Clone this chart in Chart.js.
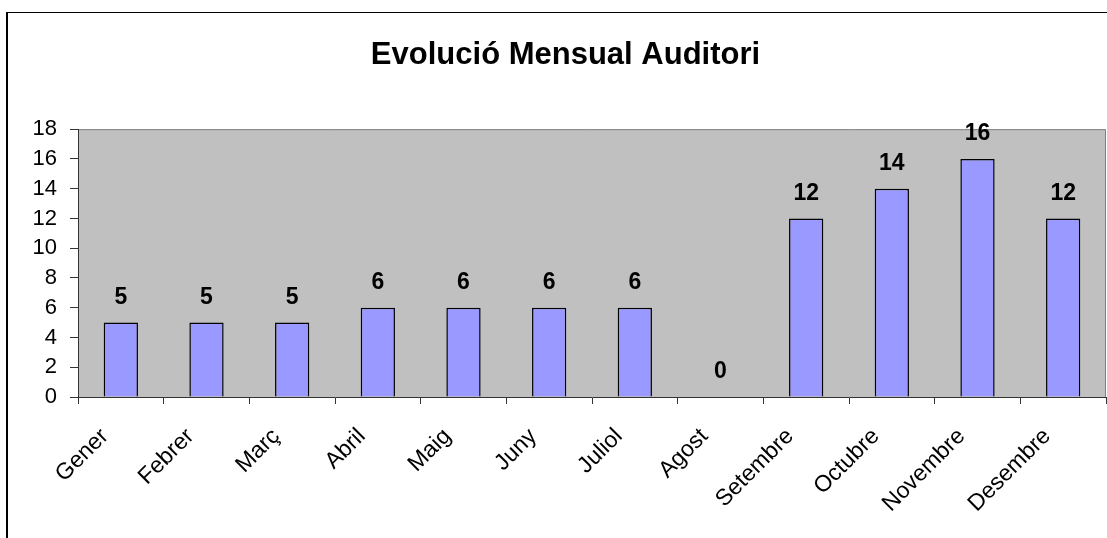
<!DOCTYPE html>
<html>
<head>
<meta charset="utf-8">
<title>Evolució Mensual Auditori</title>
<script src="https://cdn.jsdelivr.net/npm/chart.js@4"></script>
<style>
  html, body { margin: 0; padding: 0; background: #fff; }
  .chart-box { position: relative; width: 1107px; height: 538px; }
</style>
</head>
<body>
<div class="chart-box"><canvas id="auditoriChart"></canvas></div>
<script>
const months = ['Gener', 'Febrer', 'Març', 'Abril', 'Maig', 'Juny', 'Juliol', 'Agost', 'Setembre', 'Octubre', 'Novembre', 'Desembre'];
const visits = [5, 5, 5, 6, 6, 6, 6, 0, 12, 14, 16, 12];
const yTicks = [0, 2, 4, 6, 8, 10, 12, 14, 16, 18];

const FONT = "'Liberation Sans', Arial, sans-serif";

// grey plot background + outer frame, excel style
const plotBackground = {
  id: 'plotBackground',
  beforeDraw(chart) {
    const ctx = chart.ctx;
    const a = chart.chartArea;
    ctx.save();
    ctx.fillStyle = '#c0c0c0';
    ctx.fillRect(a.left, a.top, a.right - a.left, a.bottom - a.top);
    ctx.strokeStyle = '#808080';
    ctx.lineWidth = 1;
    ctx.beginPath();
    ctx.moveTo(a.left, a.top + 0.5);
    ctx.lineTo(a.right - 0.5, a.top + 0.5);
    ctx.lineTo(a.right - 0.5, a.bottom);
    ctx.stroke();
    ctx.strokeStyle = '#000';
    ctx.lineWidth = 2;
    ctx.beginPath();
    ctx.moveTo(7, chart.height);
    ctx.lineTo(7, 12);
    ctx.stroke();
    ctx.lineWidth = 1;
    ctx.beginPath();
    ctx.moveTo(7, 12.5);
    ctx.lineTo(chart.width, 12.5);
    ctx.stroke();
    ctx.restore();
  }
};

// value labels above each bar
const valueLabels = {
  id: 'valueLabels',
  afterDatasetsDraw(chart) {
    const ctx = chart.ctx;
    const meta = chart.getDatasetMeta(0);
    ctx.save();
    ctx.font = 'bold 23px ' + FONT;
    ctx.fillStyle = '#000';
    ctx.textAlign = 'center';
    ctx.textBaseline = 'middle';
    meta.data.forEach(function(bar, i) {
      ctx.fillText(String(visits[i]), bar.x, bar.y - 25);
    });
    ctx.restore();
  }
};

new Chart(document.getElementById('auditoriChart'), {
  type: 'bar',
  data: {
    labels: months,
    datasets: [{
      data: visits,
      backgroundColor: '#9999ff',
      borderColor: '#000',
      borderWidth: 1.5,
      barPercentage: 0.4,
      categoryPercentage: 1
    }]
  },
  options: {
    responsive: true,
    maintainAspectRatio: false,
    animation: false,
    layout: { padding: { left: 25, right: 1, top: 12, bottom: 0 } },
    plugins: {
      legend: { display: false },
      tooltip: { enabled: false },
      title: {
        display: true,
        text: 'Evolució Mensual Auditori',
        color: '#000',
        font: { family: FONT, size: 31, weight: 'bold' },
        padding: { top: 25, bottom: 55 }
      }
    },
    scales: {
      x: {
        grid: { drawOnChartArea: false, drawTicks: true, tickLength: 7, color: '#333' },
        border: { color: '#333', width: 1 },
        ticks: {
          color: '#000',
          font: { family: FONT, size: 23 },
          maxRotation: 45,
          minRotation: 45,
          labelOffset: -16,
          padding: 19
        },
        afterFit(scale) { scale.height = 141; }
      },
      y: {
        min: 0,
        max: 18,
        grid: { drawOnChartArea: false, drawTicks: true, tickLength: 8, color: '#333' },
        border: { color: '#333', width: 1 },
        afterBuildTicks(scale) {
          scale.ticks = yTicks.map(v => ({ value: v }));
        },
        ticks: {
          color: '#000',
          font: { family: FONT, size: 22 },
          padding: 13
        },
        afterFit(scale) { scale.width = 53; }
      }
    }
  },
  plugins: [plotBackground, valueLabels]
});
</script>
</body>
</html>
